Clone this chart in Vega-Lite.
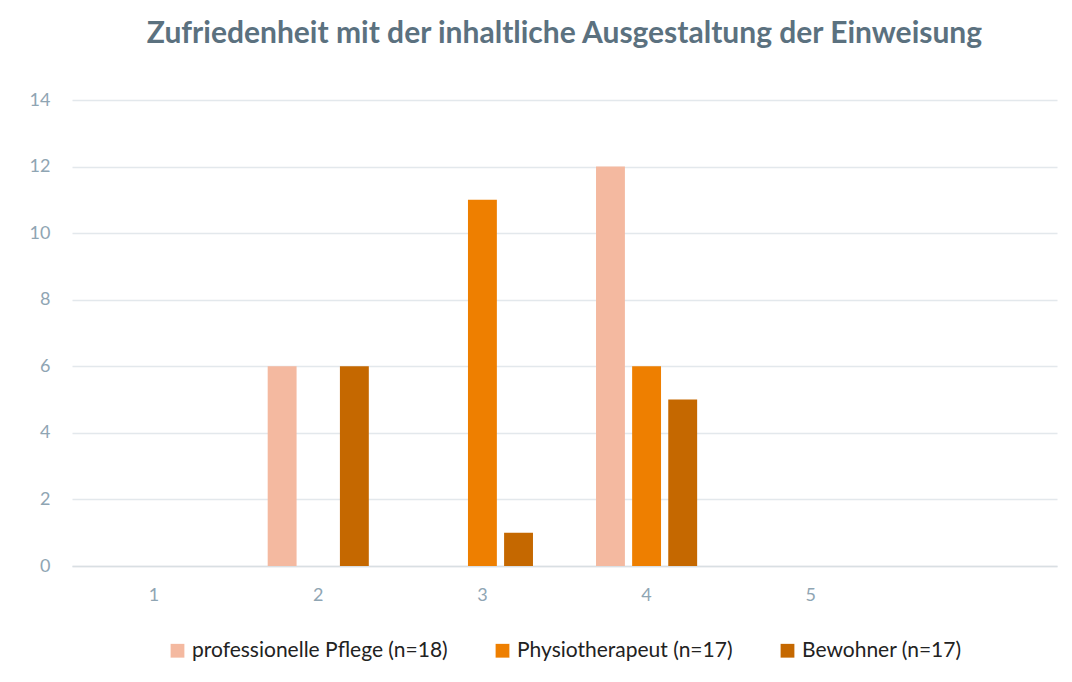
{
  "$schema": "https://vega.github.io/schema/vega-lite/v6.json",
  "autosize": "none",
  "width": 985,
  "height": 466,
  "padding": {"left": 72, "top": 100, "right": 15, "bottom": 116},
  "background": "white",
  "title": {
    "text": "Zufriedenheit mit der inhaltliche Ausgestaltung der Einweisung",
    "font": "Lato",
    "fontSize": 30,
    "fontWeight": "bold",
    "color": "#5b717f",
    "anchor": "middle",
    "offset": 42
  },
  "data": {
    "values": [
      {"Bewertung": 1, "Gruppe": "professionelle Pflege (n=18)", "Anzahl": 0},
      {"Bewertung": 1, "Gruppe": "Physiotherapeut (n=17)", "Anzahl": 0},
      {"Bewertung": 1, "Gruppe": "Bewohner (n=17)", "Anzahl": 0},
      {"Bewertung": 2, "Gruppe": "professionelle Pflege (n=18)", "Anzahl": 6},
      {"Bewertung": 2, "Gruppe": "Physiotherapeut (n=17)", "Anzahl": 0},
      {"Bewertung": 2, "Gruppe": "Bewohner (n=17)", "Anzahl": 6},
      {"Bewertung": 3, "Gruppe": "professionelle Pflege (n=18)", "Anzahl": 0},
      {"Bewertung": 3, "Gruppe": "Physiotherapeut (n=17)", "Anzahl": 11},
      {"Bewertung": 3, "Gruppe": "Bewohner (n=17)", "Anzahl": 1},
      {"Bewertung": 4, "Gruppe": "professionelle Pflege (n=18)", "Anzahl": 12},
      {"Bewertung": 4, "Gruppe": "Physiotherapeut (n=17)", "Anzahl": 6},
      {"Bewertung": 4, "Gruppe": "Bewohner (n=17)", "Anzahl": 5},
      {"Bewertung": 5, "Gruppe": "professionelle Pflege (n=18)", "Anzahl": 0},
      {"Bewertung": 5, "Gruppe": "Physiotherapeut (n=17)", "Anzahl": 0},
      {"Bewertung": 5, "Gruppe": "Bewohner (n=17)", "Anzahl": 0}
    ]
  },
  "mark": {"type": "bar"},
  "encoding": {
    "x": {
      "field": "Bewertung",
      "type": "ordinal",
      "scale": {"domain": [1, 2, 3, 4, 5, 6], "paddingInner": 0.34, "paddingOuter": 0.17},
      "axis": {
        "title": null,
        "labelAngle": 0,
        "labelExpr": "datum.value == 6 ? '' : datum.label",
        "labelFont": "Lato",
        "labelFontSize": 18,
        "labelColor": "#8fa5b3",
        "labelPadding": 20,
        "ticks": false,
        "domainColor": "#d9dfe3",
        "domainWidth": 1.5,
        "grid": false
      }
    },
    "xOffset": {
      "field": "Gruppe",
      "type": "nominal",
      "sort": ["professionelle Pflege (n=18)", "Physiotherapeut (n=17)", "Bewohner (n=17)"],
      "scale": {"paddingInner": 0.2, "paddingOuter": 0.1}
    },
    "y": {
      "field": "Anzahl",
      "type": "quantitative",
      "scale": {"domain": [0, 14], "nice": false},
      "axis": {
        "title": null,
        "values": [0, 2, 4, 6, 8, 10, 12, 14],
        "labelFont": "Lato",
        "labelFontSize": 18,
        "labelColor": "#8fa5b3",
        "labelPadding": 22,
        "ticks": false,
        "domain": false,
        "gridColor": "#e3e8ec",
        "gridWidth": 1.5
      }
    },
    "color": {
      "field": "Gruppe",
      "type": "nominal",
      "sort": ["professionelle Pflege (n=18)", "Physiotherapeut (n=17)", "Bewohner (n=17)"],
      "scale": {
        "domain": ["professionelle Pflege (n=18)", "Physiotherapeut (n=17)", "Bewohner (n=17)"],
        "range": ["#f4b9a0", "#ee7f00", "#c56800"]
      },
      "legend": {
        "title": null,
        "orient": "bottom",
        "direction": "horizontal",
        "symbolType": "square",
        "symbolSize": 190,
        "symbolStrokeWidth": 0,
        "labelFont": "Lato",
        "labelFontSize": 21,
        "labelColor": "#222222",
        "labelOffset": 4,
        "labelLimit": 0,
        "columnPadding": 44,
        "offset": 36
      }
    }
  },
  "config": {
    "view": {"stroke": null},
    "legend": {"layout": {"bottom": {"anchor": "middle"}}}
  }
}
